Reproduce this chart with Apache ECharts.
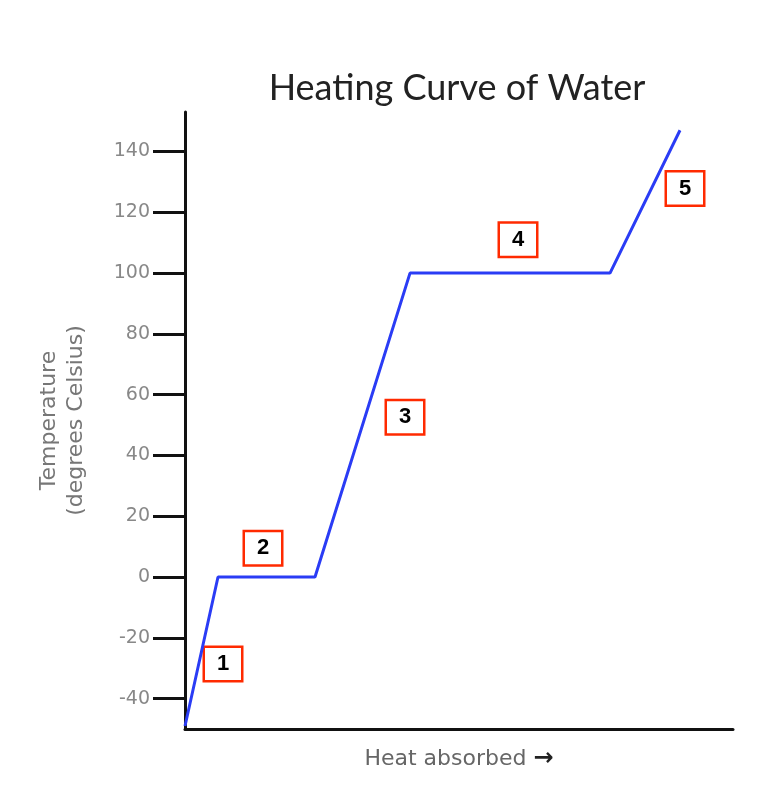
<!DOCTYPE html>
<html>
<head>
<meta charset="utf-8">
<script src="https://cdn.jsdelivr.net/npm/echarts@6/dist/echarts.min.js"></script>
<style>
  html, body { margin: 0; padding: 0; background: #fff; }
  #main { width: 758px; height: 794px; }
</style>
</head>
<body>
<div id="main"></div>
<script>
// heat absorbed (arbitrary units) and temperature in degrees Celsius
var heat = [0, 33, 130, 225, 425, 495];
var temp = [-49, 0, 0, 100, 100, 147];
// numbered phase boxes
var boxHeat = [38, 78, 220, 333, 500];
var boxTemp = [-28.6, 9.5, 52.6, 111, 127.8];
var boxText = ['1', '2', '3', '4', '5'];
var yTicks = [-40, -20, 0, 20, 40, 60, 80, 100, 120, 140];

var myChart = echarts.init(document.getElementById('main'));

var curve = [];
for (var i = 0; i < heat.length; i++) {
	curve.push([heat[i], temp[i]]);
}
var boxes = [];
for (var j = 0; j < boxHeat.length; j++) {
	boxes.push({ value: [boxHeat[j], boxTemp[j]], name: boxText[j] });
}

var option = {
	backgroundColor: '#fff',
	animation: false,
	title: {
		text: 'Heating Curve of Water',
		left: 452,
		top: 65,
		textAlign: 'center',
		textStyle: { fontFamily: 'Lato', fontWeight: 'normal', fontSize: 36, color: '#222' }
	},
	grid: { left: 185, top: 112, right: 25, bottom: 65, containLabel: false },
	xAxis: {
		type: 'value',
		min: 0,
		max: 548,
		name: 'Heat absorbed {arr|→}',
		nameLocation: 'middle',
		nameGap: 18,
		nameTextStyle: {
			fontFamily: 'DejaVu Sans', fontSize: 22, color: '#666', verticalAlign: 'top',
			rich: { arr: { fontSize: 24, color: '#222', fontWeight: 'bold', fontFamily: 'DejaVu Sans' } }
		},
		axisLine: { show: true, onZero: false, lineStyle: { color: '#111', width: 3 } },
		axisTick: { show: false },
		axisLabel: { show: false },
		splitLine: { show: false }
	},
	yAxis: {
		type: 'value',
		min: -50,
		max: 153,
		name: 'Temperature\n(degrees Celsius)',
		nameLocation: 'middle',
		nameGap: 95,
		nameTextStyle: { fontFamily: 'DejaVu Sans', fontSize: 22, color: '#777', lineHeight: 27 },
		axisLine: { show: true, onZero: false, lineStyle: { color: '#111', width: 3 } },
		axisTick: { show: true, customValues: yTicks, length: 32, lineStyle: { color: '#111', width: 3 } },
		axisLabel: {
			show: true, customValues: yTicks, margin: 35,
			fontFamily: 'DejaVu Sans', fontSize: 19, color: '#888'
		},
		splitLine: { show: false }
	},
	series: [
		{
			type: 'line',
			data: curve,
			symbol: 'none',
			lineStyle: { color: '#2a3cf5', width: 3 }
		},
		{
			type: 'scatter',
			data: boxes,
			symbolSize: 1,
			itemStyle: { color: '#fff', opacity: 1 },
			emphasis: { disabled: true },
			label: {
				show: true,
				position: 'inside',
				formatter: '{b}',
				fontFamily: 'Liberation Sans',
				fontWeight: 'bold',
				fontSize: 22,
				color: '#000',
				opacity: 1,
				backgroundColor: '#fff',
				borderColor: '#ff2a00',
				borderWidth: 2.5,
				width: 36,
				height: 32,
				lineHeight: 32,
				align: 'center',
				verticalAlign: 'middle'
			}
		}
	]
};
myChart.setOption(option);
</script>
</body>
</html>
